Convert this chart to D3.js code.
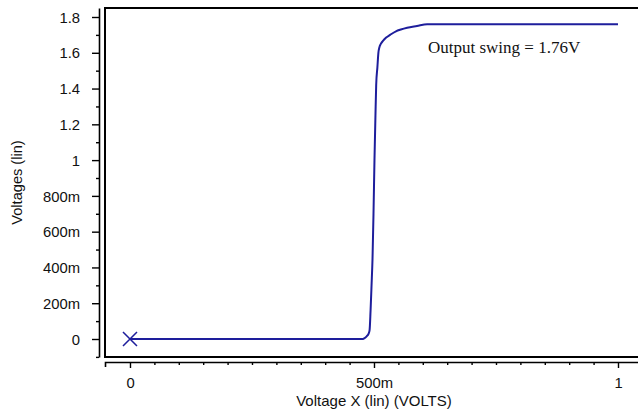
<!DOCTYPE html>
<html>
<head>
<meta charset="utf-8">
<script src="https://cdn.jsdelivr.net/npm/d3@7"></script>
<style>
  html, body { margin: 0; padding: 0; background: #fff; }
  svg { display: block; }
  text { font-family: "Liberation Sans", Arial, sans-serif; fill: #111; }
</style>
</head>
<body>
<svg id="chart" width="638" height="412"></svg>
<script>
// ---- data ----
const sweepX = [0, 0.47, 0.475, 0.48, 0.485, 0.489, 0.491, 0.493, 0.495, 0.497, 0.499, 0.501, 0.503, 0.5045, 0.507, 0.509, 0.511, 0.514, 0.518, 0.525, 0.533, 0.545, 0.555, 0.568, 0.588, 0.609, 0.7, 0.8, 0.9, 1.0];
const outputV = [0, 0, 0.0, 0.004, 0.015, 0.03, 0.05, 0.16, 0.30, 0.45, 0.70, 1.00, 1.25, 1.42, 1.52, 1.60, 1.63, 1.65, 1.665, 1.685, 1.70, 1.72, 1.73, 1.74, 1.75, 1.76, 1.76, 1.76, 1.76, 1.76];
const xMajorTicks = [0, 0.5, 1];
const xMajorLabels = ["0", "500m", "1"];
const xMinorTicks = [0.05, 0.1, 0.15, 0.2, 0.25, 0.3, 0.35, 0.4, 0.45, 0.55, 0.6, 0.65, 0.7, 0.75, 0.8, 0.85, 0.9, 0.95, 1.05];
const yMajorTicks = [0, 0.2, 0.4, 0.6, 0.8, 1.0, 1.2, 1.4, 1.6, 1.8];
const yMajorLabels = ["0", "200m", "400m", "600m", "800m", "1", "1.2", "1.4", "1.6", "1.8"];
const yMinorTicks = [-0.1, 0.1, 0.3, 0.5, 0.7, 0.9, 1.1, 1.3, 1.5, 1.7];
const annotation = "Output swing = 1.76V";
const xTitle = "Voltage X (lin) (VOLTS)";
const yTitle = "Voltages (lin)";

// ---- layout ----
const svg = d3.select("#chart");
const x = d3.scaleLinear().domain([-0.0512, 1.0533]).range([105, 644]);
const y = d3.scaleLinear().domain([-0.1006, 1.8503]).range([357, 8]);
const lineColor = "#1e1e9c";

// plot box (right side runs off the picture)
svg.append("path")
  .attr("d", `M${x.range()[1]},${y.range()[1]}H${x.range()[0]}V${y.range()[0]}H${x.range()[1]}`)
  .attr("fill", "none").attr("stroke", "#000").attr("stroke-width", 2);

// Y axis (separate ruler on the left)
const yAxisX = 99;
const gy = svg.append("g").attr("transform", `translate(${yAxisX},0)`);
gy.call(d3.axisLeft(y).tickValues(yMinorTicks).tickSize(3).tickSizeOuter(0).tickFormat(""));
gy.call(g => g.select(".domain").remove());
const gyMaj = svg.append("g").attr("transform", `translate(${yAxisX},0)`)
  .call(d3.axisLeft(y).tickValues(yMajorTicks).tickSize(7).tickSizeOuter(0).tickPadding(12)
    .tickFormat((d, i) => yMajorLabels[i]));
gyMaj.select(".domain").attr("stroke-width", 1.6);
svg.selectAll("g .tick line").attr("stroke", "#000").attr("stroke-width", 1.4);
gyMaj.selectAll("text").style("font-size", "14.8px").attr("fill", "#111").attr("dy", "0.35em");

// X axis (separate ruler below)
const xAxisY = 362;
const gxMin = svg.append("g").attr("transform", `translate(0,${xAxisY})`)
  .call(d3.axisBottom(x).tickValues(xMinorTicks).tickSize(3).tickSizeOuter(0).tickFormat(""));
gxMin.select(".domain").remove();
const gx = svg.append("g").attr("transform", `translate(0,${xAxisY})`)
  .call(d3.axisBottom(x).tickValues(xMajorTicks).tickSize(6).tickSizeOuter(5).tickPadding(9)
    .tickFormat((d, i) => xMajorLabels[i]));
gx.select(".domain").attr("stroke-width", 1.6);
svg.selectAll("g .tick line").attr("stroke", "#000").attr("stroke-width", 1.4);
gx.selectAll("text").style("font-size", "14.8px").attr("fill", "#111");

// titles
svg.append("text").attr("x", x(0.5)).attr("y", 406).attr("text-anchor", "middle")
  .style("font-size", "15px").text(xTitle);
svg.append("text").attr("transform", `translate(21.5,182.5) rotate(-90)`).attr("text-anchor", "middle")
  .style("font-size", "14.6px").text(yTitle);

// curve
const pts = sweepX.map((v, i) => [v, outputV[i]]);
svg.append("path").datum(pts)
  .attr("d", d3.line().x(d => x(d[0])).y(d => y(d[1])).curve(d3.curveMonotoneX))
  .attr("fill", "none").attr("stroke", lineColor).attr("stroke-width", 2);

// start marker
const mx = x(sweepX[0]), my = y(outputV[0]);
svg.append("path").attr("d", `M${mx-7},${my-7}L${mx+7},${my+7}M${mx-7},${my+7}L${mx+7},${my-7}`)
  .attr("stroke", lineColor).attr("stroke-width", 1.5).attr("fill", "none");

// annotation
svg.append("text").attr("x", 428).attr("y", 53)
  .style("font-family", "'Liberation Serif', 'Times New Roman', serif").style("font-size", "17px")
  .text(annotation);
</script>
</body>
</html>
